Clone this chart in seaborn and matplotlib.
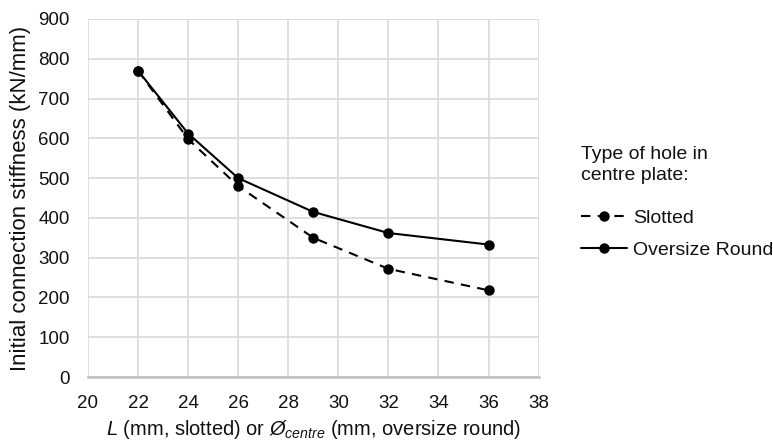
import matplotlib
matplotlib.use("Agg")
import matplotlib.pyplot as plt
import seaborn as sns
import pandas as pd

x_vals = [22, 24, 26, 29, 32, 36]
slotted = [770, 598, 480, 350, 272, 218]
oversize = [770, 612, 500, 415, 362, 333]
series_names = ["Slotted", "Oversize Round"]
x_ticks = [20, 22, 24, 26, 28, 30, 32, 34, 36, 38]
y_ticks = [0, 100, 200, 300, 400, 500, 600, 700, 800, 900]

df = pd.DataFrame({
    "x": x_vals * 2,
    "y": slotted + oversize,
    "type": [series_names[0]] * len(x_vals) + [series_names[1]] * len(x_vals),
})

sns.set_theme(style="white")
plt.rcParams["font.family"] = ["Liberation Sans", "DejaVu Sans"]
plt.rcParams["mathtext.fontset"] = "custom"
plt.rcParams["mathtext.it"] = "Liberation Sans:italic"
plt.rcParams["mathtext.rm"] = "Liberation Sans"

fig = plt.figure(figsize=(7.73, 4.41), dpi=100)
ax = fig.add_axes([0.1138, 0.145, 0.583, 0.812])

sns.lineplot(data=df, x="x", y="y", hue="type", style="type",
             palette={series_names[0]: "black", series_names[1]: "black"},
             dashes={series_names[0]: (4.5, 3.5), series_names[1]: ""},
             markers={series_names[0]: "o", series_names[1]: "o"},
             markersize=7.5, linewidth=1.5, markeredgewidth=0, ax=ax, legend=True)

ax.set_xlim(20, 38)
ax.set_ylim(0, 900)
ax.set_xticks(x_ticks)
ax.set_yticks(y_ticks)
ax.grid(True, color="#d9d9d9", linewidth=1.2)
ax.set_axisbelow(True)
for s in ["top", "right", "left"]:
    ax.spines[s].set_visible(False)
ax.spines["bottom"].set_color("#bfbfbf")
ax.spines["bottom"].set_linewidth(1.8)
ax.tick_params(axis="both", labelsize=13.5, colors="#111111", length=0)
ax.tick_params(axis="y", pad=13)
ax.tick_params(axis="x", pad=13)

ax.set_ylabel("Initial connection stiffness (kN/mm)", fontsize=16, color="#111111", labelpad=5)
ax.set_xlabel(r"$L$ (mm, slotted) or $Ø_{centre}$ (mm, oversize round)", fontsize=14.5,
              color="#111111", labelpad=4)

handles, labels = ax.get_legend_handles_labels()
leg = ax.legend(handles, labels, title="Type of hole in\ncentre plate:",
                loc="upper left", bbox_to_anchor=(1.085, 0.655), frameon=False,
                fontsize=14, title_fontsize=14, handlelength=2.4,
                handletextpad=0.3, labelspacing=0.75, borderaxespad=0, borderpad=0.2)
leg._legend_box.align = "left"
leg._legend_box.sep = 18
for t in leg.get_texts():
    t.set_color("#111111")
leg.get_title().set_color("#111111")
leg.get_title().set_linespacing(1.3)

fig.savefig("out.png", dpi=100)
